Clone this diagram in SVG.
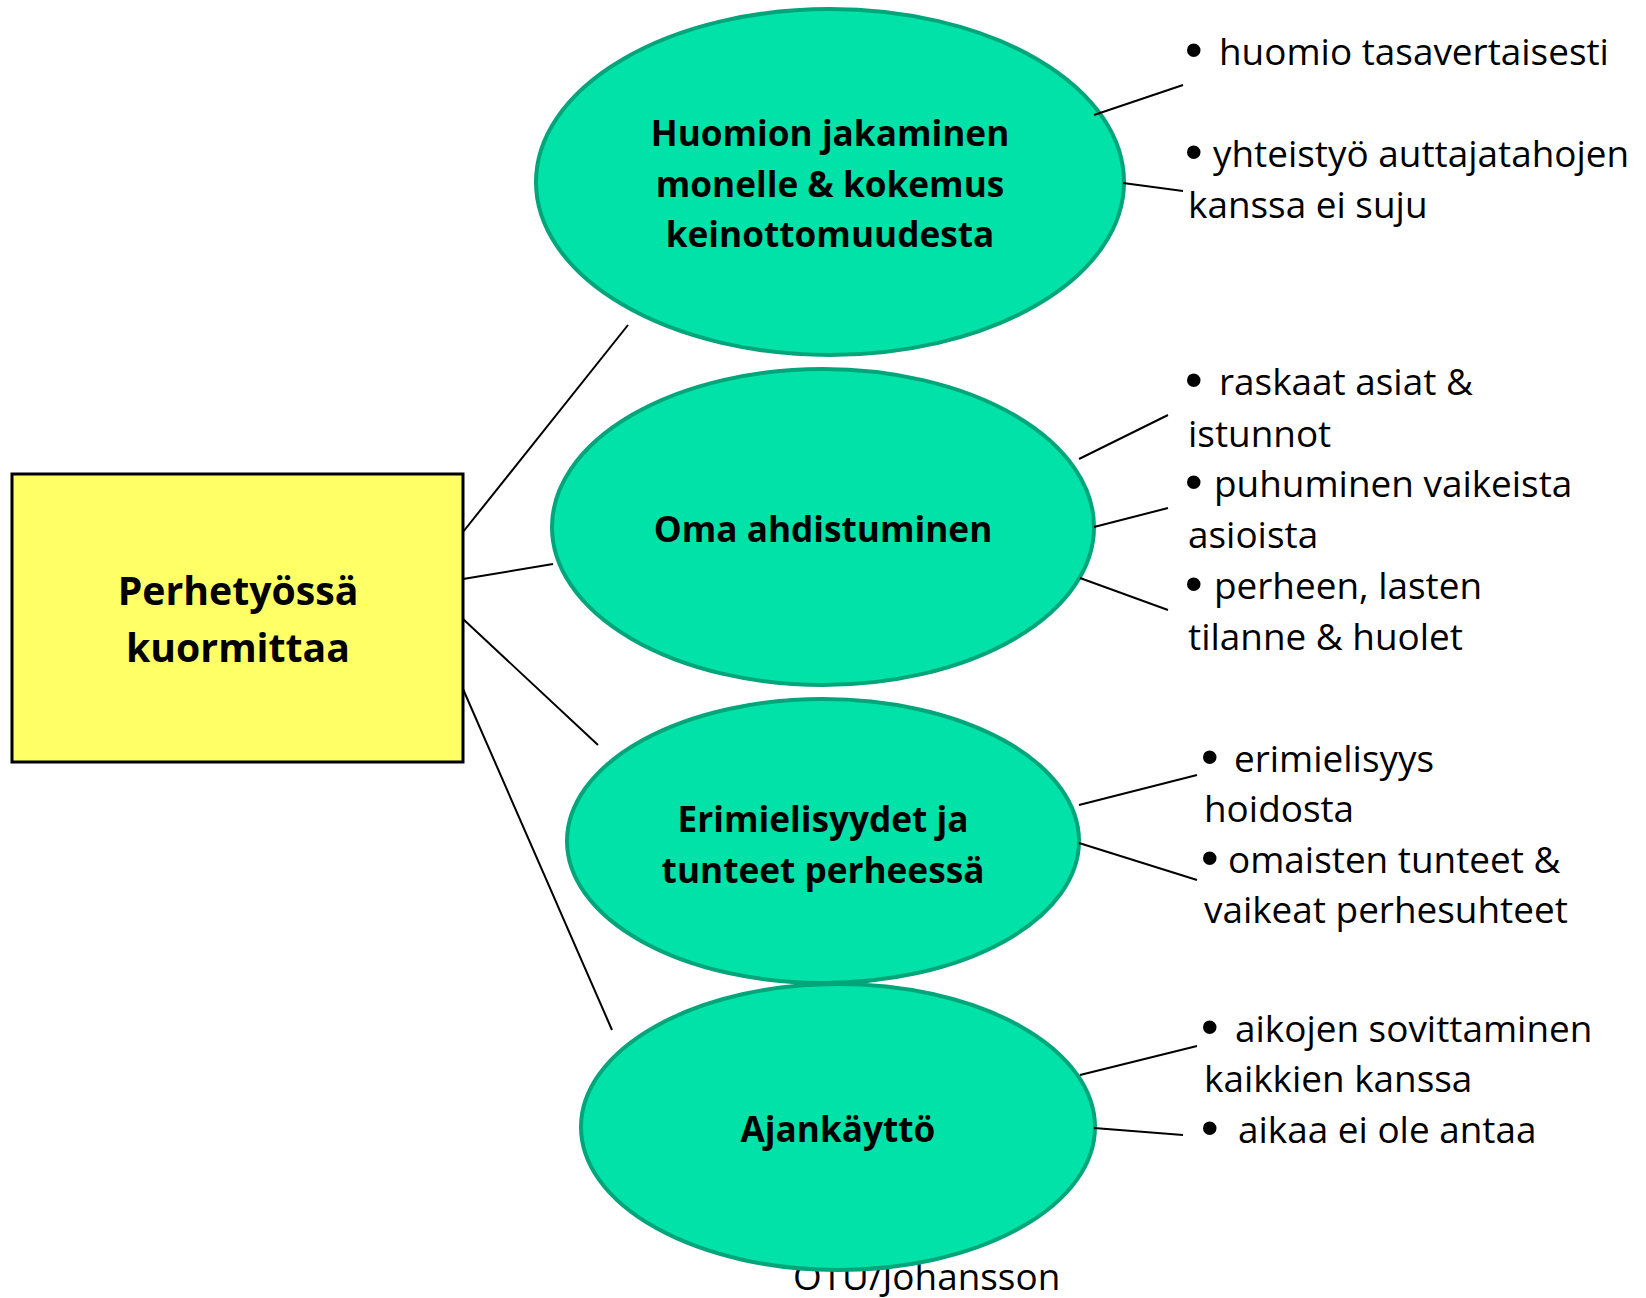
<svg xmlns="http://www.w3.org/2000/svg" width="1646" height="1298" viewBox="0 0 1646 1298">
  <style>
    .box { fill: #FFFF66; stroke: #000000; stroke-width: 3; }
    .oval { fill: #00E2A8; stroke: #00A57A; stroke-width: 4; }
    .head { font-family: "Open Sans", "Liberation Sans", sans-serif; font-weight: bold; fill: #000000; text-anchor: middle; }
    .item { font-family: "Open Sans", "Liberation Sans", sans-serif; font-size: 36.9px; fill: #000000; }
    .dot { font-family: "Liberation Sans", sans-serif; font-size: 50px; fill: #000000; }
    .link line { stroke: #000000; stroke-width: 2; }
  </style>

  <!-- credit line, partly covered by the last oval -->
  <text id="credit" class="item" x="793" y="1290">OTU/Johansson</text>

  <g id="root">
    <rect class="box" x="12" y="474" width="451" height="288"/>
    <text class="head" font-size="39.2" x="238" y="605">Perhetyössä</text>
    <text class="head" font-size="39.2" x="238" y="662">kuormittaa</text>
  </g>

  <g id="attention">
    <ellipse class="oval" cx="830" cy="182" rx="294" ry="173"/>
    <text class="head" font-size="35.2" x="830" y="146">Huomion jakaminen</text>
    <text class="head" font-size="35.2" x="830" y="197">monelle &amp; kokemus</text>
    <text class="head" font-size="35.2" x="830" y="247">keinottomuudesta</text>
  </g>

  <g id="anxiety">
    <ellipse class="oval" cx="823" cy="527" rx="271" ry="158"/>
    <text class="head" font-size="35.2" x="823" y="542">Oma ahdistuminen</text>
  </g>

  <g id="conflicts">
    <ellipse class="oval" cx="823" cy="841" rx="256" ry="142"/>
    <text class="head" font-size="35.2" x="823" y="832">Erimielisyydet ja</text>
    <text class="head" font-size="35.2" x="823" y="883">tunteet perheessä</text>
  </g>

  <g id="time">
    <ellipse class="oval" cx="838" cy="1127" rx="257" ry="143"/>
    <text class="head" font-size="35.2" x="838" y="1142">Ajankäyttö</text>
  </g>

  <g id="attention-notes">
    <text class="dot" x="1185" y="67">•</text>
    <text class="item" x="1219" y="65">huomio tasavertaisesti</text>
    <text class="dot" x="1185" y="169">•</text>
    <text class="item" x="1213" y="167">yhteistyö auttajatahojen</text>
    <text class="item" x="1188" y="218">kanssa ei suju</text>
  </g>

  <g id="anxiety-notes">
    <text class="dot" x="1185" y="397">•</text>
    <text class="item" x="1219" y="395">raskaat asiat &amp;</text>
    <text class="item" x="1188" y="447">istunnot</text>
    <text class="dot" x="1185" y="499">•</text>
    <text class="item" x="1214" y="497">puhuminen vaikeista</text>
    <text class="item" x="1188" y="548">asioista</text>
    <text class="dot" x="1185" y="601">•</text>
    <text class="item" x="1214" y="599">perheen, lasten</text>
    <text class="item" x="1188" y="650">tilanne &amp; huolet</text>
  </g>

  <g id="conflict-notes">
    <text class="dot" x="1201" y="774">•</text>
    <text class="item" x="1234" y="772">erimielisyys</text>
    <text class="item" x="1204" y="822">hoidosta</text>
    <text class="dot" x="1201" y="875">•</text>
    <text class="item" x="1228" y="873">omaisten tunteet &amp;</text>
    <text class="item" x="1204" y="923">vaikeat perhesuhteet</text>
  </g>

  <g id="time-notes">
    <text class="dot" x="1201" y="1044">•</text>
    <text class="item" x="1235" y="1042">aikojen sovittaminen</text>
    <text class="item" x="1204" y="1092">kaikkien kanssa</text>
    <text class="dot" x="1201" y="1145">•</text>
    <text class="item" x="1238" y="1143">aikaa ei ole antaa</text>
  </g>

  <g id="connectors" class="link">
    <line x1="463" y1="532" x2="628" y2="325"/>
    <line x1="463" y1="579" x2="553" y2="564"/>
    <line x1="463" y1="619" x2="598" y2="745"/>
    <line x1="463" y1="689" x2="612" y2="1030"/>
    <line x1="1094" y1="115" x2="1183" y2="85"/>
    <line x1="1123" y1="183" x2="1183" y2="191"/>
    <line x1="1079" y1="459" x2="1168" y2="415"/>
    <line x1="1094" y1="527" x2="1168" y2="508"/>
    <line x1="1080" y1="578" x2="1168" y2="610"/>
    <line x1="1079" y1="805" x2="1197" y2="775"/>
    <line x1="1079" y1="843" x2="1197" y2="880"/>
    <line x1="1080" y1="1075" x2="1197" y2="1046"/>
    <line x1="1094" y1="1128" x2="1183" y2="1135"/>
  </g>
</svg>
